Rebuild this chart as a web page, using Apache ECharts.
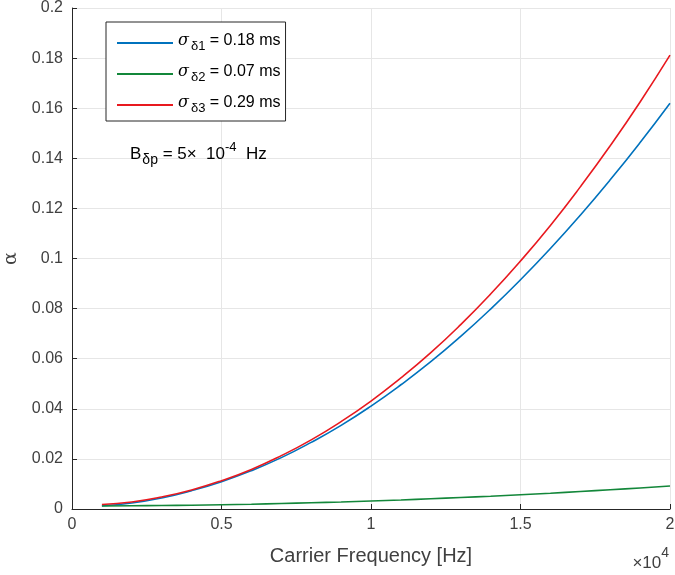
<!DOCTYPE html>
<html>
<head>
<meta charset="utf-8">
<script src="https://cdn.jsdelivr.net/npm/echarts@6/dist/echarts.min.js"></script>
<style>
html, body { margin: 0; padding: 0; background: #fff; }
#chart { width: 675px; height: 575px; }
</style>
</head>
<body>
<div id="chart"></div>
<script>
// carrier frequency in Hz
var freq = [1000, 2000, 3000, 4000, 5000, 6000, 7000, 8000, 9000, 10000,
	11000, 12000, 13000, 14000, 15000, 16000, 17000, 18000, 19000, 20000];
var names = ['s1', 's2', 's3'];
var sigmaLabels = ['0.18 ms', '0.07 ms', '0.29 ms'];
var alpha1 = [0.0013, 0.0024, 0.0044, 0.0073, 0.0109, 0.0153, 0.0205, 0.0266, 0.0334, 0.0411,
	0.0496, 0.0588, 0.0689, 0.0798, 0.0915, 0.1040, 0.1173, 0.1314, 0.1463, 0.1620];
var alpha2 = [0.0012, 0.0013, 0.0014, 0.0015, 0.0017, 0.0019, 0.0022, 0.0025, 0.0028, 0.0032,
	0.0036, 0.0041, 0.0046, 0.0051, 0.0057, 0.0063, 0.0070, 0.0077, 0.0084, 0.0092];
var alpha3 = [0.0018, 0.0028, 0.0048, 0.0076, 0.0113, 0.0158, 0.0213, 0.0276, 0.0349, 0.0431,
	0.0523, 0.0624, 0.0736, 0.0858, 0.0990, 0.1132, 0.1286, 0.1450, 0.1625, 0.1812];
var colors = ['#0072BD', '#13873A', '#E8191F'];

var chart = echarts.init(document.getElementById('chart'));
var font = 'Liberation Sans, Arial, sans-serif';
var axisColor = '#262626';
var labelColor = '#404040';

function pairs(ys) {
	return freq.map(function(f, i) { return [f, ys[i]]; });
}

function mkSeries(i, ys) {
	return {
		name: names[i],
		type: 'line',
		data: pairs(ys),
		smooth: true,
		symbol: 'none',
		lineStyle: { width: 1.6, color: colors[i] },
		itemStyle: { color: colors[i] }
	};
}

var option = {
	animation: false,
	backgroundColor: '#fff',
	grid: { left: 72, right: 5, top: 8, bottom: 66, outerBoundsMode: 'none' },
	legend: {
		orient: 'vertical',
		left: 106,
		top: 22,
		itemWidth: 56,
		itemHeight: 2,
		itemGap: 6,
		padding: [6, 5, 6, 10],
		backgroundColor: '#fff',
		borderColor: axisColor,
		borderWidth: 1,
		borderRadius: 0,
		data: names,
		formatter: function(n) {
			var i = names.indexOf(n);
			return '{s|σ}{sub|δ' + (i + 1) + '}{t| = ' + sigmaLabels[i] + '}';
		},
		textStyle: {
			fontFamily: font,
			fontSize: 16,
			color: '#000',
			lineHeight: 20,
			rich: {
				s: { fontFamily: 'DejaVu Serif, serif', fontStyle: 'italic', fontSize: 16, color: '#000', verticalAlign: 'top', lineHeight: 20, padding: [0, 2, 0, 0] },
				sub: { fontFamily: font, fontSize: 13, color: '#000', verticalAlign: 'bottom', lineHeight: 20, padding: [12, 0, 0, 0] },
				t: { fontFamily: font, fontSize: 16, color: '#000', verticalAlign: 'top', lineHeight: 20 }
			}
		}
	},
	xAxis: {
		type: 'value',
		min: 0,
		max: 20000,
		interval: 5000,
		name: 'Carrier Frequency [Hz]',
		nameLocation: 'middle',
		nameGap: 37,
		nameTextStyle: { fontFamily: font, fontSize: 20, color: labelColor },
		axisLine: { show: true, lineStyle: { color: axisColor, width: 1 } },
		axisTick: { show: true, inside: true, length: 5, lineStyle: { color: axisColor } },
		axisLabel: {
			fontFamily: font, fontSize: 16, color: labelColor, margin: 8,
			formatter: function(v) { return String(v / 10000); }
		},
		splitLine: { show: true, lineStyle: { color: '#e6e6e6', width: 1 } }
	},
	yAxis: {
		type: 'value',
		min: 0,
		max: 0.2,
		interval: 0.02,
		name: 'α',
		nameLocation: 'middle',
		nameGap: 46,
		nameRotate: 90,
		nameTextStyle: { fontFamily: 'DejaVu Serif, serif', fontSize: 19, color: labelColor },
		axisLine: { show: true, lineStyle: { color: axisColor, width: 1 } },
		axisTick: { show: true, inside: true, length: 5, lineStyle: { color: axisColor } },
		axisLabel: {
			fontFamily: font, fontSize: 16, color: labelColor, margin: 9,
			formatter: function(v) { return String(+v.toFixed(2)); }
		},
		splitLine: { show: true, lineStyle: { color: '#e6e6e6', width: 1 } }
	},
	graphic: [{
		type: 'text',
		left: 130,
		top: 141,
		z: 100,
		style: {
			text: '{b|B}{sub|δp}{t| = 5×  10}{sup|-4}{t|  Hz}',
			rich: {
				b: { fontFamily: font, fontSize: 17, fill: '#000', verticalAlign: 'middle', lineHeight: 26 },
				sub: { fontFamily: font, fontSize: 14, fill: '#000', verticalAlign: 'bottom', lineHeight: 26, padding: [0, 0, 0, 1] },
				t: { fontFamily: font, fontSize: 17, fill: '#000', verticalAlign: 'middle', lineHeight: 26 },
				sup: { fontFamily: font, fontSize: 13, fill: '#000', verticalAlign: 'top', lineHeight: 26 }
			}
		}
	}, {
		type: 'text',
		right: 6,
		top: 546,
		z: 100,
		style: {
			text: '{t|×10}{sup|4}',
			rich: {
				t: { fontFamily: font, fontSize: 17, fill: labelColor, verticalAlign: 'bottom', lineHeight: 26 },
				sup: { fontFamily: font, fontSize: 14, fill: labelColor, verticalAlign: 'top', lineHeight: 26 }
			}
		}
	}],
	series: [mkSeries(0, alpha1), mkSeries(1, alpha2), mkSeries(2, alpha3)]
};
chart.setOption(option);
</script>
</body>
</html>
